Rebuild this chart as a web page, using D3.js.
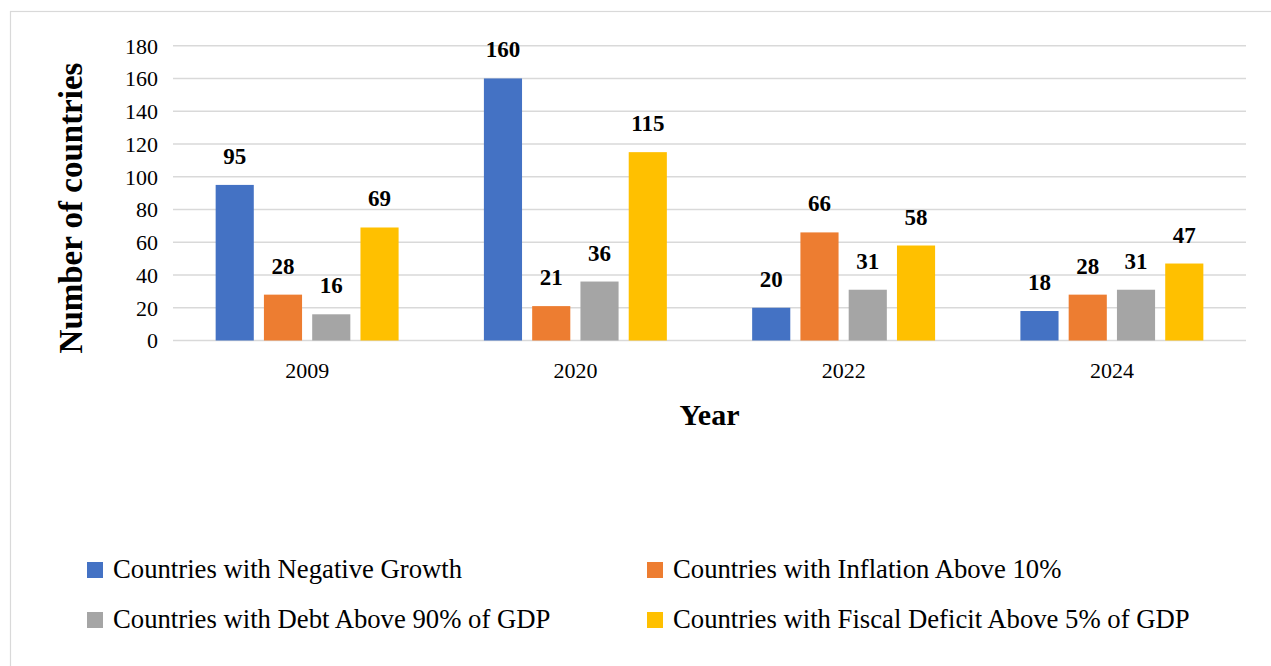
<!DOCTYPE html>
<html>
<head>
<meta charset="utf-8">
<script src="https://cdn.jsdelivr.net/npm/d3@7"></script>
<style>
  html, body { margin: 0; padding: 0; background: #fff; }
  svg { display: block; font-family: "Liberation Serif", "Times New Roman", serif; }
</style>
</head>
<body>
<script>
var years = ['2009', '2020', '2022', '2024'];
var seriesNames = [
  'Countries with Negative Growth',
  'Countries with Inflation Above 10%',
  'Countries with Debt Above 90% of GDP',
  'Countries with Fiscal Deficit Above 5% of GDP'
];
var negativeGrowth = [95, 160, 20, 18];
var inflationAbove10 = [28, 21, 66, 28];
var debtAbove90 = [16, 36, 31, 31];
var fiscalDeficitAbove5 = [69, 115, 58, 47];
var yTickValues = [0, 20, 40, 60, 80, 100, 120, 140, 160, 180];
var colors = ['#4472C4', '#ED7D31', '#A5A5A5', '#FFC000'];

var width = 1271, height = 666;
// plot box (gridline extents)
var plotLeft = 173, plotRight = 1246, plotTop = 45.7, plotBottom = 340.5;
var serif = '"Liberation Serif", "Times New Roman", serif';

var seriesValues = [negativeGrowth, inflationAbove10, debtAbove90, fiscalDeficitAbove5];

var svg = d3.select('body').append('svg')
  .attr('width', width)
  .attr('height', height);

// outer frame
svg.append('rect')
  .attr('x', 10.5).attr('y', 11.5)
  .attr('width', width + 20).attr('height', height + 20)
  .attr('fill', 'none')
  .attr('stroke', '#d9d9d9')
  .attr('stroke-width', 1.2);

var y = d3.scaleLinear().domain([0, 180]).range([plotBottom, plotTop]);

var x0 = d3.scaleBand().domain(years).range([plotLeft, plotRight])
  .paddingInner(0.318).paddingOuter(0.159);

var x1 = d3.scaleBand().domain(d3.range(seriesNames.length)).range([0, x0.bandwidth()])
  .paddingInner(0.21);

// gridlines
svg.append('g').selectAll('line')
  .data(yTickValues)
  .enter().append('line')
  .attr('x1', plotLeft).attr('x2', plotRight)
  .attr('y1', function(d) { return y(d); })
  .attr('y2', function(d) { return y(d); })
  .attr('stroke', '#d9d9d9')
  .attr('stroke-width', 1.4);

// y tick labels
var yAxis = d3.axisLeft(y).tickValues(yTickValues).tickSize(0).tickPadding(0);
var yG = svg.append('g').attr('transform', 'translate(158,0)').call(yAxis);
yG.select('.domain').remove();
yG.attr('font-family', serif);
yG.selectAll('text')
  .attr('font-size', 22)
  .attr('fill', '#000')
  .attr('dy', '0.34em');

// x tick labels
var xAxis = d3.axisBottom(x0).tickSize(0).tickPadding(0);
var xG = svg.append('g').attr('transform', 'translate(0,378)').call(xAxis);
xG.select('.domain').remove();
xG.attr('font-family', serif);
xG.selectAll('text')
  .attr('font-size', 22)
  .attr('fill', '#000')
  .attr('dy', 0)
  .attr('y', 0);

// bars
var groups = svg.append('g').selectAll('g')
  .data(years)
  .enter().append('g')
  .attr('transform', function(d) { return 'translate(' + x0(d) + ',0)'; });

groups.each(function(year, i) {
  var g = d3.select(this);
  var vals = seriesValues.map(function(s, k) { return { k: k, v: s[i] }; });

  g.selectAll('rect')
    .data(vals)
    .enter().append('rect')
    .attr('x', function(d) { return x1(d.k); })
    .attr('y', function(d) { return y(d.v); })
    .attr('width', x1.bandwidth())
    .attr('height', function(d) { return plotBottom - y(d.v); })
    .attr('fill', function(d) { return colors[d.k]; });

  g.selectAll('text')
    .data(vals)
    .enter().append('text')
    .attr('x', function(d) { return x1(d.k) + x1.bandwidth() / 2; })
    .attr('y', function(d) { return y(d.v) - 21; })
    .attr('text-anchor', 'middle')
    .attr('font-family', serif)
    .attr('font-size', 23)
    .attr('font-weight', 'bold')
    .text(function(d) { return d.v; });
});

// axis titles
svg.append('text')
  .attr('x', (plotLeft + plotRight) / 2)
  .attr('y', 425)
  .attr('text-anchor', 'middle')
  .attr('font-family', serif)
  .attr('font-size', 30)
  .attr('font-weight', 'bold')
  .text('Year');

svg.append('text')
  .attr('transform', 'translate(82,208) rotate(-90)')
  .attr('text-anchor', 'middle')
  .attr('font-family', serif)
  .attr('font-size', 33)
  .attr('font-weight', 'bold')
  .text('Number of countries');

// legend
var legendPos = [[87, 562], [647, 562], [87, 612], [647, 612]];
var legend = svg.append('g').selectAll('g')
  .data(seriesNames)
  .enter().append('g')
  .attr('transform', function(d, i) { return 'translate(' + legendPos[i][0] + ',' + legendPos[i][1] + ')'; });

legend.append('rect')
  .attr('width', 16).attr('height', 16)
  .attr('fill', function(d, i) { return colors[i]; });

legend.append('text')
  .attr('x', 26)
  .attr('y', 16)
  .attr('font-family', serif)
  .attr('font-size', 26.7)
  .text(function(d) { return d; });
</script>
</body>
</html>
